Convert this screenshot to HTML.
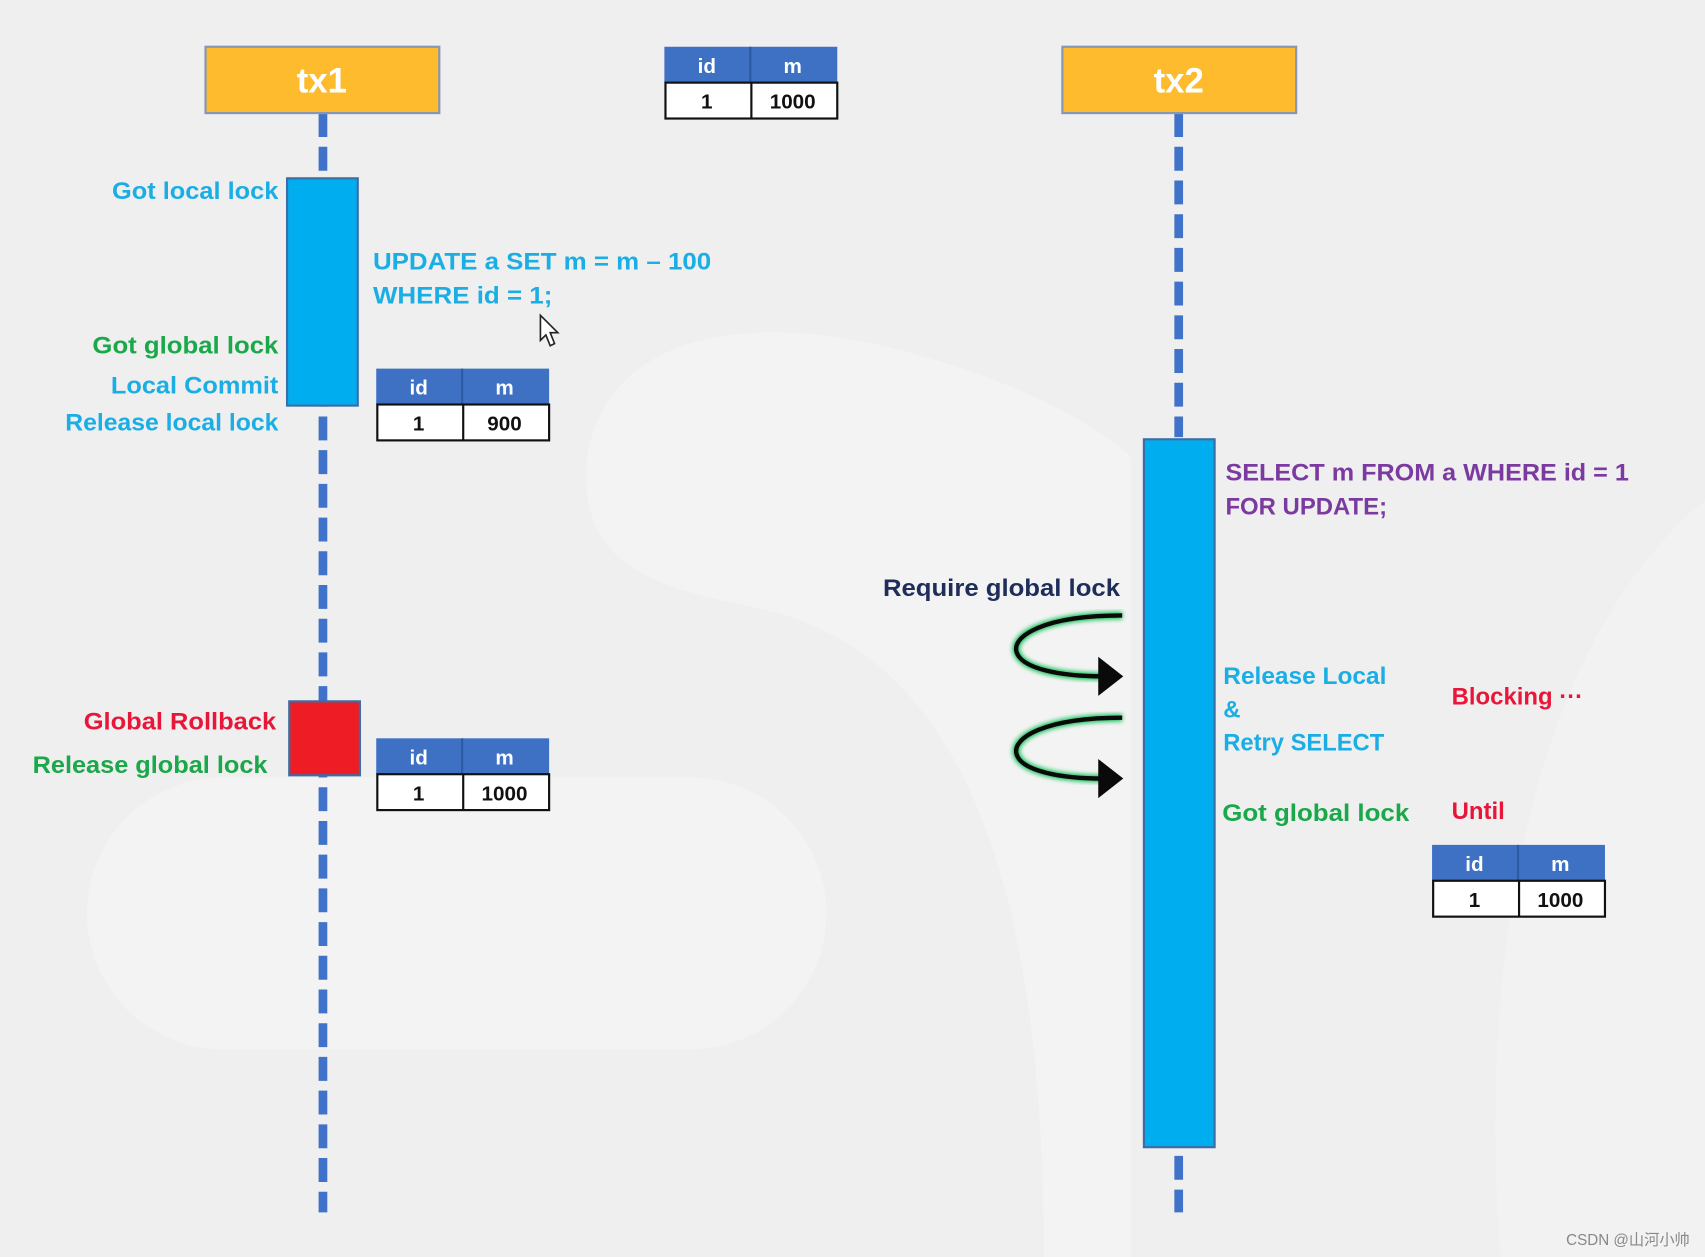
<!DOCTYPE html>
<html><head><meta charset="utf-8"><style>
html,body{margin:0;padding:0;background:#f0f0f0;}
svg{display:block}
text{font-family:"Liberation Sans","Noto Sans CJK SC",sans-serif;font-weight:bold;}
</style></head><body>
<svg width="1705" height="1257" viewBox="0 0 1568 1156" preserveAspectRatio="none" xmlns="http://www.w3.org/2000/svg">
<defs>
<filter id="glow"><feGaussianBlur stdDeviation="2"/></filter>
</defs>
<rect width="1568" height="1156" fill="#efefef"/>
<path d="M540 420 C560 300 700 290 820 320 C980 360 1040 420 1040 420 L1040 1156 L960 1156 C960 800 880 600 700 560 C600 540 530 520 540 420Z" fill="#f3f3f3"/>
<rect x="80" y="715" width="680" height="250" rx="125" fill="#f3f3f3"/>
<path d="M1380 1156 C1360 900 1400 600 1568 460 L1568 1156Z" fill="#f2f2f2"/>

<line x1="297" y1="104" x2="297" y2="1115" stroke="#3f72c8" stroke-width="8" stroke-dasharray="22 9"/>
<line x1="1084" y1="104" x2="1084" y2="402" stroke="#3f72c8" stroke-width="8" stroke-dasharray="22 9"/>
<line x1="1084" y1="1063" x2="1084" y2="1115" stroke="#3f72c8" stroke-width="8" stroke-dasharray="22 9"/>

<rect x="189" y="43" width="215" height="61" fill="#fdbb2d" stroke="#8697b3" stroke-width="2"/>
<text x="296" y="85" font-size="32" fill="#fff" text-anchor="middle">tx1</text>
<rect x="977" y="43" width="215" height="61" fill="#fdbb2d" stroke="#8697b3" stroke-width="2"/>
<text x="1084" y="85" font-size="32" fill="#fff" text-anchor="middle">tx2</text>

<g>
<rect x="611" y="43" width="159" height="33" fill="#3e70c4"/>
<line x1="690" y1="43" x2="690" y2="76" stroke="#2c5aa5" stroke-width="2"/>
<rect x="612" y="76" width="158" height="33" fill="#fff" stroke="#111" stroke-width="2"/>
<line x1="691" y1="76" x2="691" y2="109" stroke="#111" stroke-width="2"/>
<text x="650" y="67" font-size="19" fill="#fff" text-anchor="middle">id</text>
<text x="729" y="67" font-size="19" fill="#fff" text-anchor="middle">m</text>
<text x="650" y="100" font-size="19" fill="#111" text-anchor="middle">1</text>
<text x="729" y="100" font-size="19" fill="#111" text-anchor="middle">1000</text>
</g>
<g transform="translate(-265,296)">
<rect x="611" y="43" width="159" height="33" fill="#3e70c4"/>
<line x1="690" y1="43" x2="690" y2="76" stroke="#2c5aa5" stroke-width="2"/>
<rect x="612" y="76" width="158" height="33" fill="#fff" stroke="#111" stroke-width="2"/>
<line x1="691" y1="76" x2="691" y2="109" stroke="#111" stroke-width="2"/>
<text x="650" y="67" font-size="19" fill="#fff" text-anchor="middle">id</text>
<text x="729" y="67" font-size="19" fill="#fff" text-anchor="middle">m</text>
<text x="650" y="100" font-size="19" fill="#111" text-anchor="middle">1</text>
<text x="729" y="100" font-size="19" fill="#111" text-anchor="middle">900</text>
</g>
<g transform="translate(-265,636)">
<rect x="611" y="43" width="159" height="33" fill="#3e70c4"/>
<line x1="690" y1="43" x2="690" y2="76" stroke="#2c5aa5" stroke-width="2"/>
<rect x="612" y="76" width="158" height="33" fill="#fff" stroke="#111" stroke-width="2"/>
<line x1="691" y1="76" x2="691" y2="109" stroke="#111" stroke-width="2"/>
<text x="650" y="67" font-size="19" fill="#fff" text-anchor="middle">id</text>
<text x="729" y="67" font-size="19" fill="#fff" text-anchor="middle">m</text>
<text x="650" y="100" font-size="19" fill="#111" text-anchor="middle">1</text>
<text x="729" y="100" font-size="19" fill="#111" text-anchor="middle">1000</text>
</g>
<g transform="translate(706,734)">
<rect x="611" y="43" width="159" height="33" fill="#3e70c4"/>
<line x1="690" y1="43" x2="690" y2="76" stroke="#2c5aa5" stroke-width="2"/>
<rect x="612" y="76" width="158" height="33" fill="#fff" stroke="#111" stroke-width="2"/>
<line x1="691" y1="76" x2="691" y2="109" stroke="#111" stroke-width="2"/>
<text x="650" y="67" font-size="19" fill="#fff" text-anchor="middle">id</text>
<text x="729" y="67" font-size="19" fill="#fff" text-anchor="middle">m</text>
<text x="650" y="100" font-size="19" fill="#111" text-anchor="middle">1</text>
<text x="729" y="100" font-size="19" fill="#111" text-anchor="middle">1000</text>
</g>

<rect x="264" y="164" width="65" height="209" fill="#00aeef" stroke="#3a6ea5" stroke-width="2"/>
<rect x="266" y="645" width="65" height="68" fill="#ee1c25" stroke="#3a6ea5" stroke-width="2"/>
<rect x="1052" y="404" width="65" height="651" fill="#00aeef" stroke="#3a6ea5" stroke-width="2"/>

<text x="103" y="183" font-size="22" fill="#1aaee5" textLength="153" lengthAdjust="spacingAndGlyphs">Got local lock</text>
<text x="343" y="248" font-size="22" fill="#1aaee5" textLength="311" lengthAdjust="spacingAndGlyphs">UPDATE a SET m = m – 100</text>
<text x="343" y="279" font-size="22" fill="#1aaee5" textLength="165" lengthAdjust="spacingAndGlyphs">WHERE id = 1;</text>
<text x="85" y="325" font-size="22" fill="#1aa84a" textLength="171" lengthAdjust="spacingAndGlyphs">Got global lock</text>
<text x="102" y="362" font-size="22" fill="#1aaee5" textLength="154" lengthAdjust="spacingAndGlyphs">Local Commit</text>
<text x="60" y="396" font-size="22" fill="#1aaee5" textLength="196" lengthAdjust="spacingAndGlyphs">Release local lock</text>
<text x="77" y="671" font-size="22" fill="#e8173a" textLength="177" lengthAdjust="spacingAndGlyphs">Global Rollback</text>
<text x="30" y="711" font-size="22" fill="#1aa84a" textLength="216" lengthAdjust="spacingAndGlyphs">Release global lock</text>

<path d="M497 290 L497 313 L502 308 L506 318 L510 316 L506 306 L513 306 Z" fill="#fff" stroke="#222" stroke-width="1.5"/>

<text x="1127" y="442" font-size="22" fill="#7b3aa0" textLength="371" lengthAdjust="spacingAndGlyphs">SELECT m FROM a WHERE id = 1</text>
<text x="1127" y="473" font-size="22" fill="#7b3aa0">FOR UPDATE;</text>
<text x="812" y="548" font-size="22" fill="#1f2d5a" textLength="218" lengthAdjust="spacingAndGlyphs">Require global lock</text>
<text x="1125" y="629" font-size="22" fill="#1aaee5" textLength="150" lengthAdjust="spacingAndGlyphs">Release Local</text>
<text x="1125" y="660" font-size="22" fill="#1aaee5">&amp;</text>
<text x="1125" y="690" font-size="22" fill="#1aaee5" textLength="148" lengthAdjust="spacingAndGlyphs">Retry SELECT</text>
<text x="1335" y="648" font-size="22" fill="#e8173a">Blocking ···</text>
<text x="1124" y="755" font-size="22" fill="#1aa84a" textLength="172" lengthAdjust="spacingAndGlyphs">Got global lock</text>
<text x="1335" y="753" font-size="22" fill="#e8173a">Until</text>

<g>
<path d="M1032 566 C960 566 930 585 935 600 C940 615 975 622 1015 622" fill="none" stroke="#19c35a" stroke-width="7" filter="url(#glow)"/>
<path d="M1032 566 C960 566 930 585 935 600 C940 615 975 622 1015 622" fill="none" stroke="#0a0a0a" stroke-width="4"/>
<path d="M1010 604 L1033 622 L1010 640 Z" fill="#0a0a0a"/>
<path d="M1032 660 C960 660 930 679 935 694 C940 709 975 716 1015 716" fill="none" stroke="#19c35a" stroke-width="7" filter="url(#glow)"/>
<path d="M1032 660 C960 660 930 679 935 694 C940 709 975 716 1015 716" fill="none" stroke="#0a0a0a" stroke-width="4"/>
<path d="M1010 698 L1033 716 L1010 734 Z" fill="#0a0a0a"/>
</g>

<text x="1554" y="1145" font-size="14" fill="#888" text-anchor="end" style="font-weight:normal">CSDN @山河小帅</text>
</svg>
</body></html>
